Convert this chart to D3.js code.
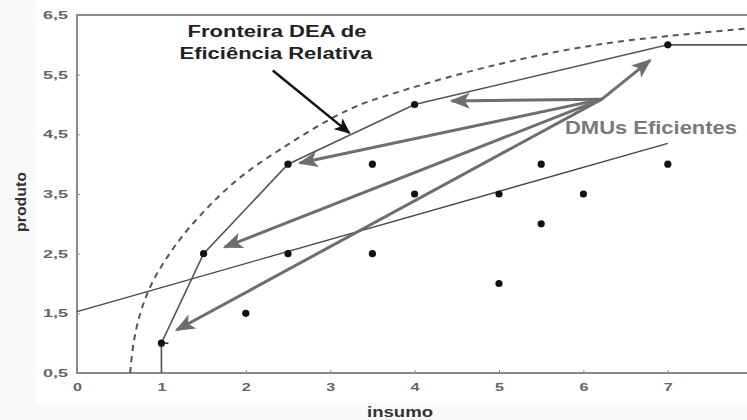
<!DOCTYPE html>
<html>
<head>
<meta charset="utf-8">
<script src="https://cdn.jsdelivr.net/npm/d3@7"></script>
<style>
  body { margin: 0; background: #f9f9f9; }
  text { font-family: "Liberation Sans", Arial, Helvetica, sans-serif; font-weight: bold; }
</style>
</head>
<body>
<div id="wrapper"></div>
<script>
// efficient DMUs (on the frontier)
const efficientX = [1, 1.5, 2.5, 4, 7]
const efficientY = [1, 2.5, 4, 5, 6]
// inefficient DMUs
const otherX = [2, 2.5, 3.5, 3.5, 4, 5, 5, 5.5, 5.5, 6, 7]
const otherY = [1.5, 2.5, 2.5, 4, 3.5, 3.5, 2, 4, 3, 3.5, 4]
// DEA frontier (piecewise)
const frontierX = [1, 1, 1.5, 2.5, 4, 7, 8]
const frontierY = [0.5, 1, 2.5, 4, 5, 6, 6]
// regression line
const regX = [0, 7]
const regY = [1.53, 4.35]
// dashed smooth frontier
const curveX = [0.63, 0.67, 0.75, 0.87, 1.05, 1.34, 1.85, 2.4, 3.23, 3.83, 5.01, 6.2, 7.38, 8]
const curveY = [0.5, 1.0, 1.5, 1.95, 2.4, 2.95, 3.68, 4.24, 4.92, 5.22, 5.68, 6.01, 6.2, 6.28]
// gray arrows: one origin, several targets
const arrowFrom = [6.22, 5.09]
const arrowToX = [6.79, 4.44, 2.64, 1.75, 1.18]
const arrowToY = [5.74, 5.06, 4.02, 2.61, 1.22]
// black annotation arrow
const noteFrom = [2.32, 5.57]
const noteTo = [3.23, 4.52]

const xTicks = [0, 1, 2, 3, 4, 5, 6, 7]
const yTicks = [0.5, 1.5, 2.5, 3.5, 4.5, 5.5, 6.5]

function drawChart() {
  let dimensions = {
    width: 747,
    height: 420,
    margin: { top: 15, left: 77 },
  }
  const plotBottom = 373
  const plotRight = 747

  const wrapper = d3.select("#wrapper")
    .append("svg")
    .attr("width", dimensions.width)
    .attr("height", dimensions.height)

  // faint white card behind the chart
  wrapper.append("rect")
    .attr("x", 36).attr("y", 0)
    .attr("width", 711).attr("height", 403)
    .attr("fill", "#ffffff")

  const xScale = d3.scaleLinear()
    .domain([0, 8])
    .range([dimensions.margin.left, dimensions.margin.left + 8 * 84.4])

  const yScale = d3.scaleLinear()
    .domain([0.5, 6.5])
    .range([plotBottom, dimensions.margin.top])

  const fmt = d => d3.format(".1f")(d).replace(".", ",")

  // axes
  const yAxis = wrapper.append("g")
    .attr("transform", `translate(${dimensions.margin.left},0)`)
    .call(d3.axisLeft(yScale).tickValues(yTicks).tickFormat(fmt).tickSize(-3).tickPadding(9))
  yAxis.select(".domain").remove()
  yAxis.selectAll("line").attr("stroke", "#888")
  yAxis.selectAll("text")
    .attr("fill", "#666")
    .style("font-size", "11px")
    .attr("textLength", 25)
    .attr("lengthAdjust", "spacingAndGlyphs")

  const xAxis = wrapper.append("g")
    .attr("transform", `translate(0,${plotBottom})`)
    .call(d3.axisBottom(xScale).tickValues(xTicks).tickFormat(d3.format("d")).tickSize(-3).tickPadding(10))
  xAxis.select(".domain").remove()
  xAxis.selectAll("line").attr("stroke", "#888")
  xAxis.selectAll("text")
    .attr("fill", "#666")
    .style("font-size", "11px")
    .attr("textLength", 9)
    .attr("lengthAdjust", "spacingAndGlyphs")

  // frame
  wrapper.append("path")
    .attr("d", `M${plotRight},${dimensions.margin.top}H${dimensions.margin.left}V${plotBottom}H${plotRight}`)
    .attr("stroke", "#8a8a8a")
    .attr("stroke-width", 2)
    .attr("fill", "none")

  const line = d3.line()
    .x(d => xScale(d[0]))
    .y(d => yScale(d[1]))

  // dashed curve
  const smooth = d3.line()
    .x(d => xScale(d[0]))
    .y(d => yScale(d[1]))
    .curve(d3.curveCatmullRom.alpha(0.5))
  wrapper.append("path")
    .attr("d", smooth(d3.zip(curveX, curveY)))
    .attr("fill", "none")
    .attr("stroke", "#555")
    .attr("stroke-width", 2)
    .attr("stroke-dasharray", "6,5")

  // regression line
  wrapper.append("path")
    .attr("d", line(d3.zip(regX, regY)))
    .attr("fill", "none")
    .attr("stroke", "#444")
    .attr("stroke-width", 1.3)

  // frontier
  wrapper.append("path")
    .attr("d", line(d3.zip(frontierX, frontierY)))
    .attr("fill", "none")
    .attr("stroke", "#555")
    .attr("stroke-width", 1.6)
  wrapper.append("line")
    .attr("x1", xScale(efficientX[0])).attr("x2", xScale(efficientX[0]) + 7)
    .attr("y1", yScale(efficientY[0])).attr("y2", yScale(efficientY[0]))
    .attr("stroke", "#333").attr("stroke-width", 1.6)

  // dots
  const dots = d3.zip(otherX, otherY).concat(d3.zip(efficientX, efficientY))
  wrapper.append("g")
    .selectAll("circle")
    .data(dots)
    .join("circle")
    .attr("cx", d => xScale(d[0]))
    .attr("cy", d => yScale(d[1]))
    .attr("r", 3.6)
    .attr("fill", "#111")

  // arrow markers
  const defs = wrapper.append("defs")
  defs.append("marker")
    .attr("id", "grayHead")
    .attr("markerUnits", "userSpaceOnUse")
    .attr("viewBox", "0 0 20 16")
    .attr("refX", 18).attr("refY", 8)
    .attr("markerWidth", 20).attr("markerHeight", 16)
    .attr("orient", "auto")
    .append("path")
    .attr("d", "M0,0L20,8L0,16L5,8Z")
    .attr("fill", "#6e6e6e")
  defs.append("marker")
    .attr("id", "blackHead")
    .attr("markerUnits", "userSpaceOnUse")
    .attr("viewBox", "0 0 16 14")
    .attr("refX", 15).attr("refY", 7)
    .attr("markerWidth", 16).attr("markerHeight", 14)
    .attr("orient", "auto")
    .append("path")
    .attr("d", "M0,0L16,7L0,14L4,7Z")
    .attr("fill", "#111")

  // gray arrows
  wrapper.append("g")
    .selectAll("line")
    .data(d3.zip(arrowToX, arrowToY))
    .join("line")
    .attr("x1", xScale(arrowFrom[0]))
    .attr("y1", yScale(arrowFrom[1]))
    .attr("x2", d => xScale(d[0]))
    .attr("y2", d => yScale(d[1]))
    .attr("stroke", "#6e6e6e")
    .attr("stroke-width", 3)
    .attr("marker-end", "url(#grayHead)")

  // annotation text box
  wrapper.append("rect")
    .attr("x", 127).attr("y", 21).attr("width", 273).attr("height", 58)
    .attr("fill", "#ffffff")

  const title = wrapper.append("g")
    .attr("fill", "#222")
    .style("font-size", "16px")
    .attr("text-anchor", "middle")
  title.append("text")
    .attr("x", 277).attr("y", 37)
    .attr("textLength", 179)
    .attr("lengthAdjust", "spacingAndGlyphs")
    .text("Fronteira DEA de")
  title.append("text")
    .attr("x", 276).attr("y", 59)
    .attr("textLength", 193)
    .attr("lengthAdjust", "spacingAndGlyphs")
    .text("Eficiência Relativa")

  // black annotation arrow
  wrapper.append("line")
    .attr("x1", xScale(noteFrom[0]))
    .attr("y1", yScale(noteFrom[1]))
    .attr("x2", xScale(noteTo[0]))
    .attr("y2", yScale(noteTo[1]))
    .attr("stroke", "#111")
    .attr("stroke-width", 2.5)
    .attr("marker-end", "url(#blackHead)")

  wrapper.append("text")
    .attr("x", 565).attr("y", 134)
    .attr("fill", "#7a7a7a")
    .style("font-size", "18px")
    .attr("textLength", 172)
    .attr("lengthAdjust", "spacingAndGlyphs")
    .text("DMUs Eficientes")

  // axis titles
  wrapper.append("text")
    .attr("x", 400).attr("y", 417)
    .attr("text-anchor", "middle")
    .attr("fill", "#333")
    .style("font-size", "14px")
    .attr("textLength", 66)
    .attr("lengthAdjust", "spacingAndGlyphs")
    .text("insumo")

  wrapper.append("text")
    .attr("transform", "translate(26,202) rotate(-90)")
    .attr("text-anchor", "middle")
    .attr("fill", "#333")
    .style("font-size", "14px")
    .attr("textLength", 60)
    .attr("lengthAdjust", "spacingAndGlyphs")
    .text("produto")
}
drawChart()
</script>
</body>
</html>
